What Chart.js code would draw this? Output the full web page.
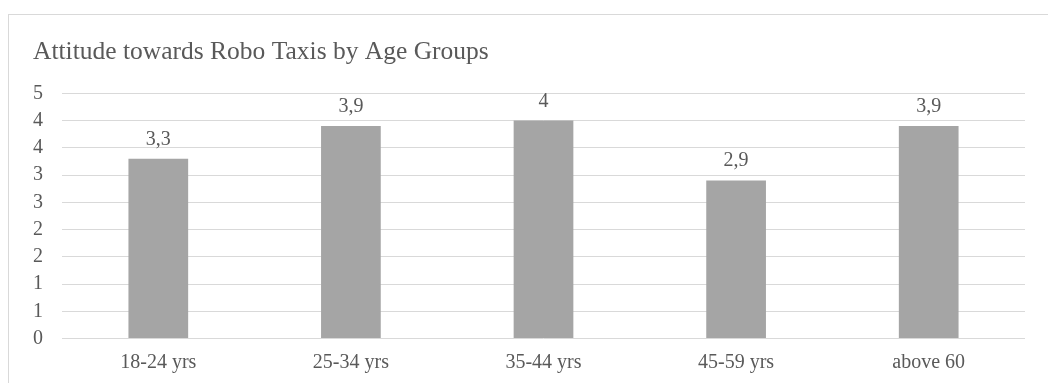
<!DOCTYPE html>
<html>
<head>
<meta charset="utf-8">
<script src="https://cdn.jsdelivr.net/npm/chart.js@4/dist/chart.umd.min.js"></script>
<style>
  html, body { margin: 0; padding: 0; background: #fff; }
  #wrap { position: relative; width: 1048px; height: 383px; }
</style>
</head>
<body>
<div id="wrap"><canvas id="robo-chart"></canvas></div>
<script>
const ageGroups = ['18-24 yrs', '25-34 yrs', '35-44 yrs', '45-59 yrs', 'above 60'];
const attitudeScores = [3.3, 3.9, 4.0, 2.9, 3.9];
const chartTitle = 'Attitude towards Robo Taxis by Age Groups';

const TEXT = '#595959';
const GRID = '#d9d9d9';
const FONT = "'Liberation Serif', 'Times New Roman', serif";

// outer frame like the office chart box
const framePlugin = {
  id: 'frame',
  beforeDraw(chart) {
    const ctx = chart.ctx;
    ctx.save();
    ctx.strokeStyle = GRID;
    ctx.lineWidth = 1;
    ctx.strokeRect(8.5, 14.5, chart.width + 20, chart.height + 20);
    ctx.restore();
  }
};

// value labels above bars, decimal comma
const valueLabels = {
  id: 'valueLabels',
  afterDatasetsDraw(chart) {
    const ctx = chart.ctx;
    const meta = chart.getDatasetMeta(0);
    ctx.save();
    ctx.fillStyle = TEXT;
    ctx.font = '20px ' + FONT;
    ctx.textAlign = 'center';
    ctx.textBaseline = 'alphabetic';
    meta.data.forEach((bar, i) => {
      const txt = String(attitudeScores[i]).replace('.', ',');
      ctx.fillText(txt, bar.x, bar.y - 14);
    });
    ctx.restore();
  }
};

const ctx = document.getElementById('robo-chart').getContext('2d');
new Chart(ctx, {
  type: 'bar',
  data: {
    labels: ageGroups,
    datasets: [{
      data: attitudeScores,
      backgroundColor: '#a5a5a5',
      borderWidth: 0,
      barPercentage: 0.31,
      categoryPercentage: 1
    }]
  },
  options: {
    responsive: true,
    maintainAspectRatio: false,
    animation: false,
    layout: { padding: { left: 33, right: 23, top: 0, bottom: 8 } },
    plugins: {
      legend: { display: false },
      tooltip: { enabled: false },
      title: {
        display: true,
        text: chartTitle,
        align: 'start',
        color: TEXT,
        font: { family: FONT, size: 25.5, weight: 'normal' },
        padding: { top: 37.3, bottom: 25.4 }
      }
    },
    scales: {
      x: {
        grid: { display: false, drawTicks: false },
        border: { display: false },
        afterFit: s => { s.height = 36.5; },
        ticks: {
          color: TEXT,
          font: { family: FONT, size: 20 },
          padding: 12.5,
          maxRotation: 0
        }
      },
      y: {
        min: 0,
        max: 4.5,
        grid: { color: GRID, drawTicks: false },
        border: { display: false },
        afterFit: s => { s.width = 29; },
        ticks: {
          stepSize: 0.5,
          autoSkip: false,
          color: TEXT,
          font: { family: FONT, size: 20 },
          padding: 19,
          callback: v => Math.round(v)
        }
      }
    }
  },
  plugins: [framePlugin, valueLabels]
});
</script>
</body>
</html>
